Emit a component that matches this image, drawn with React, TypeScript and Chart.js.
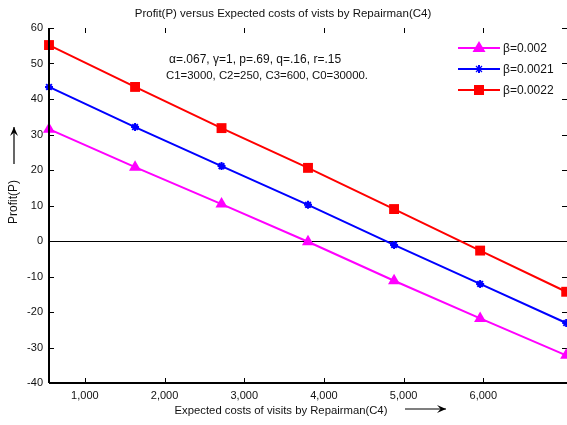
import React, { useEffect, useRef } from "react";
import { Chart, registerables } from "chart.js";

Chart.register(...registerables);

// Data
const xValues = [550, 1630, 2715, 3800, 4880, 5960, 7040];
const beta0020 = [31.5, 20.8, 10.4, -0.2, -11.2, -21.8, -32.2];
const beta0021 = [43.4, 32.1, 21.1, 10.2, -1.1, -12.1, -23.1];
const beta0022 = [55.2, 43.4, 31.8, 20.6, 9.0, -2.7, -14.3];
const seriesLabels = ["β=0.002", "β=0.0021", "β=0.0022"];
const xTicks = [1000, 2000, 3000, 4000, 5000, 6000];
const yTicks = [-40, -30, -20, -10, 0, 10, 20, 30, 40, 50, 60];
const titleText = "Profit(P) versus Expected costs of vists by Repairman(C4)";
const xTitle = "Expected costs of visits by Repairman(C4)";
const yTitle = "Profit(P)";
const noteLines = ["α=.067, γ=1, p=.69, q=.16, r=.15", "C1=3000, C2=250, C3=600, C0=30000."];

const FONT = "'Liberation Sans', Arial, sans-serif";
const colors = ["#ff00ff", "#0000ff", "#ff0000"];
const styles = ["triangle", "star", "rect"];

function drawMarker(ctx: CanvasRenderingContext2D, style: string, x: number, y: number, color: string) {
  ctx.save();
  ctx.fillStyle = color;
  ctx.strokeStyle = color;
  if (style === "triangle") {
    ctx.beginPath();
    ctx.moveTo(x, y - 7);
    ctx.lineTo(x + 6.5, y + 4);
    ctx.lineTo(x - 6.5, y + 4);
    ctx.closePath();
    ctx.fill();
  } else if (style === "rect") {
    ctx.fillRect(x - 5, y - 5, 10, 10);
  } else {
    ctx.lineWidth = 2;
    ctx.beginPath();
    ctx.moveTo(x - 4, y); ctx.lineTo(x + 4, y);
    ctx.moveTo(x, y - 4); ctx.lineTo(x, y + 4);
    ctx.stroke();
    ctx.lineWidth = 1.2;
    ctx.beginPath();
    ctx.moveTo(x - 3, y - 3); ctx.lineTo(x + 3, y + 3);
    ctx.moveTo(x + 3, y - 3); ctx.lineTo(x - 3, y + 3);
    ctx.stroke();
  }
  ctx.restore();
}

function arrow(ctx: CanvasRenderingContext2D, x1: number, y1: number, x2: number, y2: number) {
  ctx.save();
  ctx.setLineDash([]);
  ctx.strokeStyle = "#000";
  ctx.fillStyle = "#000";
  ctx.lineWidth = 1.2;
  ctx.beginPath();
  ctx.moveTo(x1, y1);
  ctx.lineTo(x2, y2);
  ctx.stroke();
  const ang = Math.atan2(y2 - y1, x2 - x1);
  const L = 9, W = 4;
  ctx.beginPath();
  ctx.moveTo(x2, y2);
  ctx.lineTo(x2 - L * Math.cos(ang) + W * Math.sin(ang), y2 - L * Math.sin(ang) - W * Math.cos(ang));
  ctx.lineTo(x2 - 0.6 * L * Math.cos(ang), y2 - 0.6 * L * Math.sin(ang));
  ctx.lineTo(x2 - L * Math.cos(ang) - W * Math.sin(ang), y2 - L * Math.sin(ang) + W * Math.cos(ang));
  ctx.closePath();
  ctx.fill();
  ctx.restore();
}

const decorPlugin = {
  id: "decor",
  beforeDatasetsDraw(chart: any) {
    const ctx = chart.ctx;
    const ca = chart.chartArea;
    const sx = chart.scales.x;
    const sy = chart.scales.y;
    const L = ca.left, R = ca.right, T = ca.top, B = ca.bottom;
    const y0 = Math.round(sy.getPixelForValue(0)) + 0.5;
    ctx.save();
    ctx.setLineDash([]);
    ctx.strokeStyle = "#000000";
    ctx.lineWidth = 1;
    ctx.beginPath();
    ctx.moveTo(L, y0);
    ctx.lineTo(R, y0);
    ctx.stroke();
    for (let i = 0; i < xTicks.length; i++) {
      const px = Math.round(sx.getPixelForValue(xTicks[i])) + 0.5;
      ctx.beginPath();
      ctx.moveTo(px, B);
      ctx.lineTo(px, B - 5);
      ctx.moveTo(px, T);
      ctx.lineTo(px, T + 5);
      ctx.stroke();
    }
    for (let i = 0; i < yTicks.length; i++) {
      const py = Math.round(sy.getPixelForValue(yTicks[i])) + 0.5;
      ctx.beginPath();
      ctx.moveTo(L, py);
      ctx.lineTo(L + 5, py);
      ctx.moveTo(R, py);
      ctx.lineTo(R - 5, py);
      ctx.stroke();
    }
    ctx.restore();
  },
  afterDraw(chart: any) {
    const ctx = chart.ctx;
    const ca = chart.chartArea;
    const L = ca.left, R = ca.right, T = ca.top, B = ca.bottom;
    ctx.save();
    ctx.setLineDash([]);
    ctx.strokeStyle = "#000000";
    ctx.lineWidth = 2;
    ctx.beginPath();
    ctx.moveTo(L, T);
    ctx.lineTo(L, B);
    ctx.stroke();
    ctx.beginPath();
    ctx.moveTo(L, B);
    ctx.lineTo(R, B);
    ctx.stroke();

    ctx.fillStyle = "#111";
    ctx.font = `11.5px ${FONT}`;
    ctx.textAlign = "center";
    ctx.textBaseline = "middle";
    ctx.fillText(titleText, 283, 14);

    ctx.font = `11.3px ${FONT}`;
    ctx.fillText(xTitle, 281, 411);
    arrow(ctx, 405, 409, 446, 409);

    ctx.font = `12px ${FONT}`;
    ctx.save();
    ctx.translate(14, 202);
    ctx.rotate(-Math.PI / 2);
    ctx.fillText(yTitle, 0, 0);
    ctx.restore();
    arrow(ctx, 14, 164, 14, 127);

    ctx.textAlign = "left";
    ctx.font = `12px ${FONT}`;
    ctx.fillText(noteLines[0], 169, 60);
    ctx.font = `11.4px ${FONT}`;
    ctx.fillText(noteLines[1], 166, 76);

    const ly = [48, 69, 90];
    seriesLabels.forEach((lab, i) => {
      ctx.strokeStyle = colors[i];
      ctx.lineWidth = 2;
      ctx.beginPath();
      ctx.moveTo(458, ly[i]);
      ctx.lineTo(500, ly[i]);
      ctx.stroke();
      drawMarker(ctx, styles[i], 479, ly[i], colors[i]);
      ctx.fillStyle = "#111";
      ctx.font = `12px ${FONT}`;
      ctx.textAlign = "left";
      ctx.fillText(lab, 503, ly[i] + 1);
    });
    ctx.restore();
  },
};

export default function App() {
  const ref = useRef<HTMLCanvasElement | null>(null);
  useEffect(() => {
    if (!ref.current) return;
    const mk = (vals: number[]) => vals.map((v, i) => ({ x: xValues[i], y: v }));
    const chart = new Chart(ref.current, {
      type: "line",
      data: {
        datasets: [
          {
            label: seriesLabels[0], data: mk(beta0020), borderColor: colors[0], backgroundColor: colors[0],
            borderWidth: 2, pointStyle: "triangle", pointRadius: 7, pointBorderWidth: 0, tension: 0,
          },
          {
            label: seriesLabels[1], data: mk(beta0021), borderColor: colors[1], backgroundColor: colors[1],
            borderWidth: 2, pointStyle: "star", pointRadius: 4, pointBorderWidth: 2, tension: 0,
          },
          {
            label: seriesLabels[2], data: mk(beta0022), borderColor: colors[2], backgroundColor: colors[2],
            borderWidth: 2, pointStyle: "rect", pointRadius: 7, pointBorderWidth: 0, tension: 0,
          },
        ],
      },
      options: {
        animation: false,
        responsive: false,
        maintainAspectRatio: false,
        clip: false as any,
        layout: { autoPadding: false, padding: { top: 28, left: 0, right: 0, bottom: 0 } },
        plugins: { legend: { display: false }, title: { display: false }, tooltip: { enabled: false } },
        scales: {
          x: {
            type: "linear",
            min: 550,
            max: 7050,
            grid: { display: false, drawTicks: false },
            border: { display: false },
            afterBuildTicks: (s: any) => { s.ticks = xTicks.map((v) => ({ value: v })); },
            afterFit: (s: any) => { s.height = 42; s.paddingLeft = 0; s.paddingRight = 0; },
            ticks: {
              padding: 6,
              color: "#111",
              font: { family: FONT, size: 11 },
              callback: (v: any) => Number(v).toLocaleString("en-US"),
            },
          },
          y: {
            min: -40,
            max: 60,
            grid: { display: false, drawTicks: false },
            border: { display: false },
            afterBuildTicks: (s: any) => { s.ticks = yTicks.map((v) => ({ value: v })); },
            afterFit: (s: any) => { s.width = 49; },
            ticks: {
              padding: 6,
              color: "#111",
              font: { family: FONT, size: 11 },
            },
          },
        },
      },
      plugins: [decorPlugin],
    });
    return () => chart.destroy();
  }, []);
  return (
    <div style={{ position: "fixed", left: 0, top: 0, width: 567, height: 425, background: "#fff" }}>
      <canvas ref={ref} width={567} height={425} style={{ width: 567, height: 425, display: "block" }} />
    </div>
  );
}
